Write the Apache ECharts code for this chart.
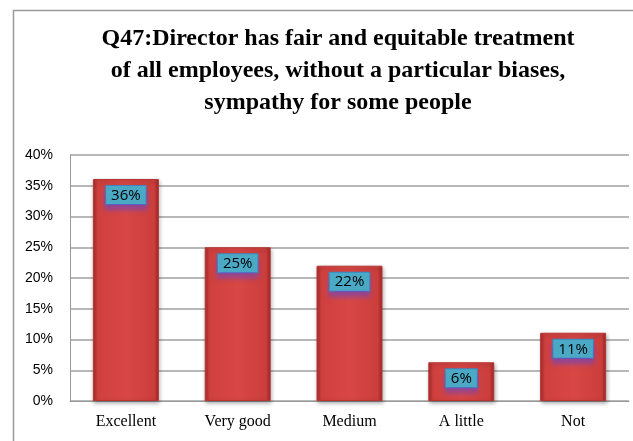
<!DOCTYPE html>
<html>
<head>
<meta charset="utf-8">
<script src="https://cdn.jsdelivr.net/npm/echarts@6/dist/echarts.min.js"></script>
<style>
html,body{margin:0;padding:0;background:#fff;}
#c{width:633px;height:441px;}
</style>
</head>
<body>
<div id="c"></div>
<script>
var titleLines = ['Q47:Director has fair and equitable treatment', 'of all employees, without a particular biases,', 'sympathy for some people'];
var categories = ['Excellent', 'Very good', 'Medium', 'A little', 'Not'];
var values = [36.1, 25.0, 22.0, 6.3, 11.1];
var labels = ['36%', '25%', '22%', '6%', '11%'];
var yTicks = [0, 5, 10, 15, 20, 25, 30, 35, 40];

var chart = echarts.init(document.getElementById('c'), null, {renderer: 'canvas'});
var barColor = {
  type: 'linear', x: 0, y: 0, x2: 1, y2: 0,
  colorStops: [
    {offset: 0, color: '#a62b29'},
    {offset: 0.07, color: '#cf403e'},
    {offset: 0.5, color: '#d84744'},
    {offset: 0.93, color: '#cb3e3c'},
    {offset: 1, color: '#9c2725'}
  ]
};
chart.setOption({
  animation: false,
  graphic: [{
    type: 'rect', left: 11, top: 8,
    shape: {width: 640, height: 460},
    style: {fill: 'none', stroke: '#9a9a9a', lineWidth: 1.5},
    z: -1
  }],
  title: {
    text: titleLines.join('\n'),
    left: 333, textAlign: 'center', top: 18,
    textStyle: {
      fontFamily: 'Liberation Serif', fontWeight: 'bold', fontSize: 24,
      lineHeight: 32, color: '#000'
    }
  },
  grid: {left: 70, right: 4, top: 155, bottom: 40},
  xAxis: {
    type: 'category', data: categories,
    axisLine: {lineStyle: {color: '#9a9a9a'}},
    axisTick: {show: false},
    axisLabel: {fontFamily: 'Liberation Serif', fontSize: 16, color: '#000', margin: 13}
  },
  yAxis: {
    type: 'value', min: 0, max: 40, interval: 5,
    axisLine: {show: true, lineStyle: {color: '#9a9a9a'}},
    axisTick: {show: false},
    splitLine: {lineStyle: {color: '#a0a0a0', width: 1.5}},
    axisLabel: {
      fontFamily: 'Liberation Sans', fontSize: 14, color: '#000', margin: 17,
      formatter: function (v) { return yTicks.indexOf(v) >= 0 ? v + '%' : ''; }
    }
  },
  series: [{
    type: 'bar', data: values, barWidth: '59%',
    itemStyle: {
      color: barColor, borderColor: '#b83634', borderWidth: 1,
      shadowColor: 'rgba(0,0,0,0.3)', shadowBlur: 4, shadowOffsetX: 1, shadowOffsetY: 2
    },
    label: {
      show: true, position: 'insideTop', distance: 7,
      formatter: function (p) { return labels[p.dataIndex]; },
      fontFamily: 'Open Sans', fontSize: 15, color: '#000',
      backgroundColor: '#4aaac6', borderColor: '#3a86c0', borderWidth: 1,
      padding: [2, 5, 1, 5],
      shadowColor: 'rgba(110,70,190,0.7)', shadowBlur: 5, shadowOffsetY: 5
    }
  }]
});
</script>
</body>
</html>
